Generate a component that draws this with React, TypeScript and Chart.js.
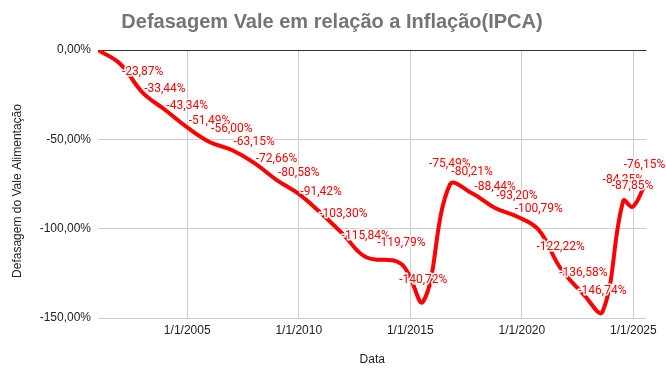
import React, { useEffect, useRef } from "react";
import { Chart, registerables } from "chart.js";

Chart.register(...registerables);

// Data (decimal years on the date axis, values in %)
const dates = [
  2001.0, 2002.0, 2003.0, 2004.0, 2005.0, 2006.0, 2007.0, 2008.0, 2009.0, 2010.0,
  2011.0, 2012.0, 2013.0, 2014.6, 2015.58, 2016.77, 2017.77, 2018.8, 2019.78,
  2020.76, 2021.74, 2022.76, 2023.61, 2024.55, 2024.96, 2025.5,
];
const values = [
  0, -7.8, -23.87, -33.44, -43.34, -51.49, -56.0, -63.15, -72.66, -80.58,
  -91.42, -103.3, -115.84, -119.79, -140.72, -75.49, -80.21, -88.44, -93.2,
  -100.79, -122.22, -136.58, -146.74, -84.35, -87.85, -76.15,
];
const pointLabels = [
  "", "", "-23,87%", "-33,44%", "-43,34%", "-51,49%", "-56,00%", "-63,15%", "-72,66%", "-80,58%",
  "-91,42%", "-103,30%", "-115,84%", "-119,79%", "-140,72%", "-75,49%", "-80,21%", "-88,44%", "-93,20%",
  "-100,79%", "-122,22%", "-136,58%", "-146,74%", "-84,35%", "-87,85%", "-76,15%",
];
const xTickValues = [2005, 2010, 2015, 2020, 2025];
const yTickValues = [0, -50, -100, -150];

const chartTitle = "Defasagem Vale em relação a Inflação(IPCA)";
const xTitle = "Data";
const yTitle = "Defasagem do Vale Alimentação";

const fmtPct = (v: number) => v.toFixed(2).replace(".", ",") + "%";

const overlayPlugin = {
  id: "overlay",
  afterDatasetsDraw(chart: any) {
    const ctx = chart.ctx;
    const meta = chart.getDatasetMeta(0);
    ctx.save();
    ctx.font = "12px Roboto";
    ctx.textAlign = "center";
    ctx.textBaseline = "middle";
    ctx.lineWidth = 3;
    ctx.lineJoin = "round";
    ctx.strokeStyle = "#ffffff";
    ctx.fillStyle = "#ff0000";
    meta.data.forEach((pt: any, i: number) => {
      const t = pointLabels[i];
      if (!t) return;
      const x = pt.x;
      const y = pt.y - 21;
      ctx.strokeText(t, x, y);
      ctx.fillText(t, x, y);
    });
    ctx.restore();
  },
  afterDraw(chart: any) {
    const ctx = chart.ctx;
    const area = chart.chartArea;
    ctx.save();
    ctx.textAlign = "center";
    ctx.textBaseline = "middle";
    ctx.fillStyle = "#757575";
    ctx.font = "bold 20px 'Liberation Sans', Arial, sans-serif";
    ctx.fillText(chartTitle, 332, 22);
    ctx.fillStyle = "#222222";
    ctx.font = "12px 'Liberation Sans', Arial, sans-serif";
    ctx.fillText(xTitle, (area.left + area.right) / 2, 360);
    ctx.translate(18, 191);
    ctx.rotate(-Math.PI / 2);
    ctx.fillText(yTitle, 0, 0);
    ctx.restore();
  },
};

export default function App() {
  const canvasRef = useRef<HTMLCanvasElement | null>(null);

  useEffect(() => {
    if (!canvasRef.current) return;
    const chart = new Chart(canvasRef.current, {
      type: "line",
      data: {
        datasets: [
          {
            data: dates.map((d, i) => ({ x: d, y: values[i] })),
            borderColor: "#ff0000",
            borderWidth: 4,
            tension: 0.4,
            pointRadius: 0,
            fill: false,
          },
        ],
      },
      options: {
        responsive: false,
        animation: false,
        layout: { padding: { top: 50, right: 19.5, left: 0, bottom: 0 } },
        plugins: {
          legend: { display: false },
          title: { display: false },
          tooltip: { enabled: false },
        },
        scales: {
          x: {
            type: "linear",
            min: 2001,
            max: 2025.59,
            afterBuildTicks: (s: any) => {
              s.ticks = xTickValues.map((v) => ({ value: v }));
            },
            afterFit: (s: any) => {
              s.height = 68;
            },
            border: { display: false },
            grid: { color: "#cccccc", drawTicks: false, lineWidth: 1 },
            ticks: {
              autoSkip: false,
              maxRotation: 0,
              padding: 5,
              color: "#222222",
              font: { family: "'Liberation Sans', Arial, sans-serif", size: 12 },
              callback: (v: any) => "1/1/" + v,
            },
          },
          y: {
            type: "linear",
            min: -150,
            max: 0,
            afterBuildTicks: (s: any) => {
              s.ticks = yTickValues.map((v) => ({ value: v }));
            },
            afterFit: (s: any) => {
              s.width = 98;
            },
            border: { display: false },
            grid: {
              color: (c: any) => (c.tick && c.tick.value === 0 ? "#333333" : "#cccccc"),
              drawTicks: false,
              lineWidth: 1,
            },
            ticks: {
              padding: 7,
              color: "#222222",
              font: { family: "'Liberation Sans', Arial, sans-serif", size: 12 },
              callback: (v: any) => fmtPct(Number(v)),
            },
          },
        },
      },
      plugins: [overlayPlugin],
    });
    return () => chart.destroy();
  }, []);

  return (
    <div style={{ position: "absolute", left: 0, top: 0, width: 666, height: 386, background: "#fff" }}>
      <canvas ref={canvasRef} width={666} height={386} />
    </div>
  );
}
